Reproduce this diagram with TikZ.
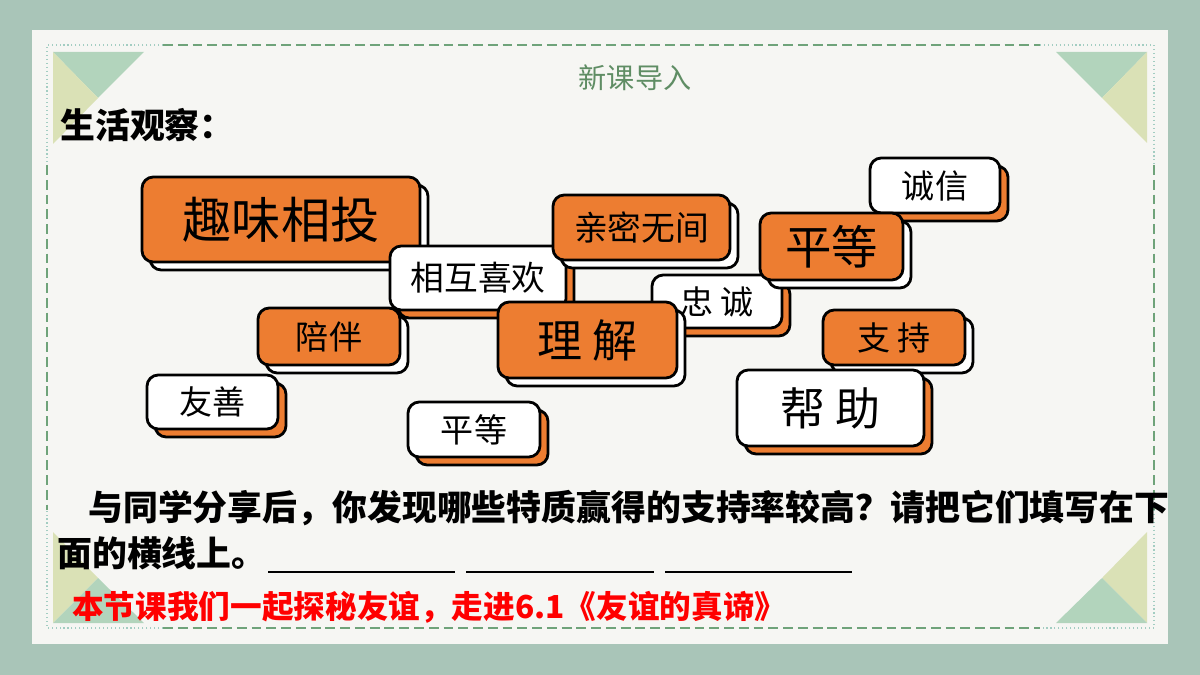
\documentclass[tikz,border=0pt]{standalone}
\usepackage{fontspec}
\newfontfamily\cjk{Noto Sans CJK SC}
\usetikzlibrary{calc}
\definecolor{tagorange}{HTML}{ED7D31}
\definecolor{paper}{HTML}{F6F6F3}
\definecolor{sage}{HTML}{A9C5B8}
\definecolor{leafgreen}{HTML}{6FA37A}
\definecolor{mintdot}{HTML}{A3CDC2}
\definecolor{cornergreen}{HTML}{B2D4BC}
\definecolor{corneryellow}{HTML}{DAE1B6}
\definecolor{titlegreen}{HTML}{5F8D64}

\begin{document}
\begin{tikzpicture}[x=0.025cm,y=-0.025cm,
  tag/.style={draw=black,line width=2pt,rounded corners=8pt,inner sep=0pt,text=black},
  dotline/.style={mintdot,dotted,line width=0.8pt},
  dashline/.style={leafgreen,line width=1.4pt,dash pattern=on 7pt off 3.5pt},
  bold/.style={font=\cjk\bfseries\fontsize{24.8}{28}\selectfont,inner sep=0pt}]
  \useasboundingbox (0,0) rectangle (1200,675);
  \fill[sage] (0,0) rectangle (1200,675);
  \fill[paper] (32,30) rectangle (1168,644);

  % corner triangles
  \fill[cornergreen] (53,52) -- (144,52) -- (98,98) -- cycle;
  \fill[corneryellow] (53,52) -- (98,98) -- (53,144) -- cycle;
  \fill[cornergreen] (1056,52) -- (1147,52) -- (1102,98) -- cycle;
  \fill[corneryellow] (1147,52) -- (1147,143) -- (1102,98) -- cycle;
  \fill[corneryellow] (1147,532) -- (1147,623) -- (1102,578) -- cycle;
  \fill[cornergreen] (1056,623) -- (1147,623) -- (1102,578) -- cycle;
  \fill[corneryellow] (53,532) -- (98,578) -- (53,623) -- cycle;
  \fill[cornergreen] (53,623) -- (98,578) -- (144,623) -- cycle;

  % frame
  \draw[dotline] (163,45) -- (47,45) -- (47,165);
  \draw[dotline] (1040,45) -- (1154,45) -- (1154,165);
  \draw[dotline] (1154,510) -- (1154,628) -- (1040,628);
  \draw[dotline] (163,628) -- (47,628) -- (47,510);
  \draw[dashline] (163,45) -- (1040,45);
  \draw[dashline] (163,628) -- (1040,628);
  \draw[dashline] (47,165) -- (47,510);
  \draw[dashline] (1154,165) -- (1154,510);

  \node[titlegreen,font=\cjk\fontsize{20}{24}\selectfont] (title) at (635,78) {新课导入};
  \node[bold,anchor=west] (observe) at (60,125) {生活观察：};

  % word tags: name/centre/size/face/back/font size/text
  \foreach \nm/\x/\y/\w/\h/\fcol/\scol/\fs/\txt in {
      qwxt/281/219.5/278/85/tagorange/white/35/趣味相投,
      xhxh/478/278/176/64/white/tagorange/24/相互喜欢,
      qmwj/641.5/227.5/177/65/tagorange/white/24/亲密无间,
      pb/329/336.5/142/57/tagorange/white/23.5/陪伴,
      ys/212.5/402/131/54/white/tagorange/23.5/友善,
      pdsmall/474/429.5/132/55/white/tagorange/23.5/平等,
      zc/717/301.5/130/53/white/tagorange/23.5/忠 诚,
      lj/587.5/340/179/76/tagorange/white/32/理 解,
      cx/935/185.5/130/55/white/tagorange/23.5/诚信,
      pdbig/831.5/246.5/143/67/tagorange/white/33/平等,
      zhc/894/337.5/142/55/tagorange/white/23.5/支 持,
      bz/830.5/408/187/76/white/tagorange/32/帮 助}{
    \node[tag,fill=\scol,minimum width=\w*0.025cm,minimum height=\h*0.025cm]
      at ($(\x,\y)+(8,8)$) {};
    \node[tag,fill=\fcol,minimum width=\w*0.025cm,minimum height=\h*0.025cm,
      font=\cjk\fontsize{\fs}{\fs}\selectfont] (\nm) at (\x,\y) {\txt};
  }

  \node[bold,anchor=west] (ask) at (88,508)
    {与同学分享后，你发现哪些特质赢得的支持率较高？请把它们填写在下};
  \node[bold,anchor=west] (ask2) at (57,553) {面的横线上。};
  \foreach \a/\b in {268/455,466/654,665/852}
    \draw[line width=1pt] (\a,572) -- (\b,572);
  \node[bold,anchor=west,red,font=\cjk\bfseries\fontsize{22.5}{26}\selectfont] (lead) at (72,607)
    {本节课我们一起探秘友谊，走进6.1《友谊的真谛》};
\end{tikzpicture}
\end{document}
